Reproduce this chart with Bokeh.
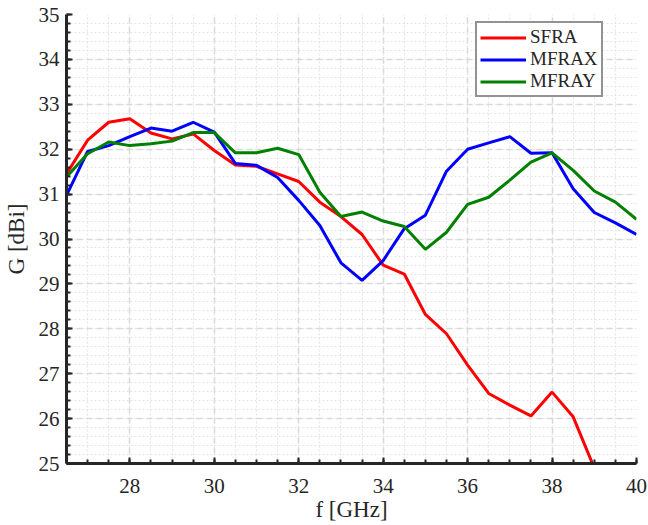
from bokeh.plotting import figure
from bokeh.models import Legend, LegendItem, FixedTicker, Range1d
from bokeh.embed import file_html
from bokeh.resources import INLINE

freq = [26.5, 27, 27.5, 28, 28.5, 29, 29.5, 30, 30.5, 31, 31.5, 32, 32.5, 33,
        33.5, 34, 34.5, 35, 35.5, 36, 36.5, 37, 37.5, 38, 38.5, 39, 39.5, 40]

sfra = [31.45, 32.2, 32.6, 32.68, 32.36, 32.23, 32.34, 31.97, 31.65, 31.62,
        31.45, 31.28, 30.82, 30.5, 30.1, 29.42, 29.22, 28.32, 27.89, 27.19,
        26.56, 26.3, 26.06, 26.59, 26.04, 24.9]
mfrax = [30.97, 31.95, 32.08, 32.28, 32.47, 32.40, 32.60, 32.38, 31.68, 31.64,
         31.37, 30.86, 30.30, 29.47, 29.08, 29.52, 30.23, 30.53, 31.51, 32.00,
         32.14, 32.28, 31.91, 31.92, 31.12, 30.59, 30.36, 30.10]
mfray = [31.38, 31.90, 32.16, 32.08, 32.12, 32.18, 32.37, 32.37, 31.92, 31.92,
         32.02, 31.88, 31.04, 30.50, 30.60, 30.40, 30.28, 29.77, 30.15, 30.77,
         30.93, 31.31, 31.71, 31.92, 31.53, 31.07, 30.82, 30.44]

x_ticks = [28, 30, 32, 34, 36, 38, 40]
y_ticks = [25, 26, 27, 28, 29, 30, 31, 32, 33, 34, 35]

FONT = "Liberation Serif"
TXT = "#262626"

p = figure(width=648, height=525, output_backend="svg", toolbar_location=None,
           x_range=Range1d(26.5, 40), y_range=Range1d(25, 35),
           min_border_left=63, min_border_right=12, min_border_top=14,
           min_border_bottom=62)
p.outline_line_color = None

r1 = p.line(freq[:len(sfra)], sfra, line_color="#FF0000", line_width=3)
r2 = p.line(freq, mfrax, line_color="#0000FF", line_width=3)
r3 = p.line(freq, mfray, line_color="#008000", line_width=3)

p.xaxis.ticker = FixedTicker(ticks=x_ticks,
                             minor_ticks=[26.5 + 0.5 * i for i in range(28)])
p.yaxis.ticker = FixedTicker(ticks=y_ticks,
                             minor_ticks=[25 + 0.2 * i for i in range(51)])

for ax in (p.xaxis[0], p.yaxis[0]):
    ax.axis_line_width = 3
    ax.axis_line_color = TXT
    ax.major_tick_in = 6
    ax.major_tick_out = 0
    ax.minor_tick_in = 4
    ax.minor_tick_out = 0
    ax.major_tick_line_width = 2
    ax.minor_tick_line_width = 2
    ax.major_tick_line_color = TXT
    ax.minor_tick_line_color = TXT
    ax.major_label_text_font = FONT
    ax.major_label_text_font_size = "21px"
    ax.major_label_text_color = TXT
    ax.axis_label_text_font = FONT
    ax.axis_label_text_font_size = "23px"
    ax.axis_label_text_font_style = "normal"
    ax.axis_label_text_color = TXT

p.xaxis.axis_label = "f [GHz]"
p.yaxis.axis_label = "G [dBi]"
p.xaxis.major_label_standoff = 15
p.xaxis.axis_label_standoff = 1
p.yaxis.major_label_standoff = 7
p.yaxis.axis_label_standoff = 7

for g in (p.xgrid[0], p.ygrid[0]):
    g.grid_line_color = "#d9d9d9"
    g.grid_line_width = 1.5
    g.grid_line_dash = "6 4"
    g.minor_grid_line_color = "#e6e6e6"
    g.minor_grid_line_width = 1.2
    g.minor_grid_line_dash = "2 2"

legend = Legend(items=[LegendItem(label="SFRA", renderers=[r1]),
                       LegendItem(label="MFRAX", renderers=[r2]),
                       LegendItem(label="MFRAY", renderers=[r3])],
                location=(409, 366))
legend.border_line_color = TXT
legend.border_line_width = 2
legend.background_fill_color = "white"
legend.background_fill_alpha = 1
legend.label_text_font = FONT
legend.label_text_font_size = "19px"
legend.label_text_color = TXT
legend.glyph_width = 46
legend.glyph_height = 19
legend.label_height = 19
legend.label_standoff = 4
legend.spacing = 0
legend.padding = 3
legend.margin = 0
p.add_layout(legend, "center")

open("out.html", "w").write(file_html(p, INLINE))
